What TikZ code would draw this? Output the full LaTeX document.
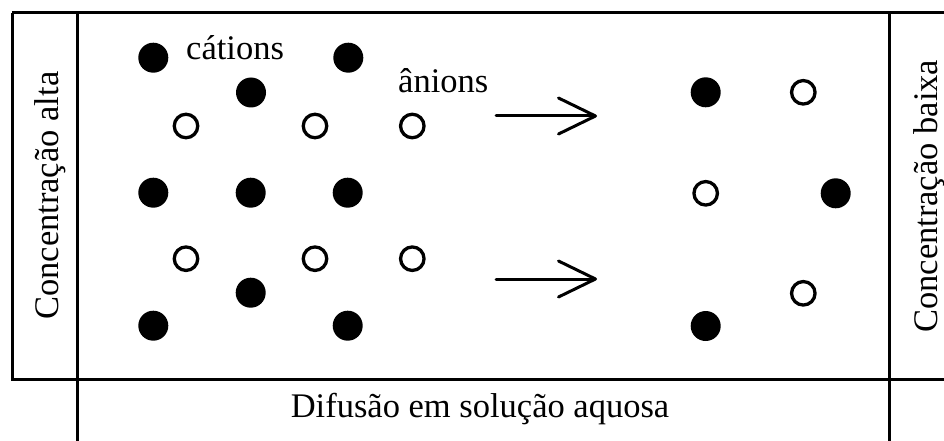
\documentclass[tikz,border=0pt]{standalone}
\usepackage{fontspec}
\setmainfont{Liberation Serif}
\usetikzlibrary{arrows.meta}
\begin{document}
\begin{tikzpicture}[x=1pt,y=-1pt,
  frame/.style={line width=3pt},
  cation/.style={circle,fill=black,minimum size=30pt,inner sep=0pt},
  anion/.style={circle,draw=black,line width=3.3pt,fill=white,minimum size=23.5pt,inner sep=0pt},
  label/.style={inner sep=0pt,font=\fontsize{34.5}{40}\selectfont},
  flow/.style={line width=3pt,line cap=round,-{Straight Barb[length=37pt,width=36pt,line cap=round,line join=round]}}
]
\useasboundingbox (0,0) rectangle (944,441);
% frame
\draw[frame] (12,13) -- (944,13);
\draw[frame] (12,13) -- (12,379) -- (944,379);
\draw[frame] (77,13) -- (77,441);
\draw[frame] (889,13) -- (889,441);
% labels
\node[label,rotate=90,anchor=base west] (alta) at (58.5,320) {Concentração alta};
\node[label,rotate=90,anchor=base west] (baixa) at (937,333) {Concentração baixa};
\node[label,anchor=base] (difusao) at (480,417) {Difusão em solução aquosa};
\node[label,anchor=base west] (cat) at (186,59.3) {cátions};
\node[label,anchor=base west] (an) at (398,92.7) {ânions};
% cations (filled)
\node[cation] (c1) at (153.3,57.7) {};
\node[cation] (c2) at (348.3,57.7) {};
\node[cation] (c3) at (251,92.5) {};
\node[cation] (c4) at (153.3,192.7) {};
\node[cation] (c5) at (250.7,192.7) {};
\node[cation] (c6) at (347.7,192.7) {};
\node[cation] (c7) at (250.7,292.7) {};
\node[cation] (c8) at (153.3,325.7) {};
\node[cation] (c9) at (347.7,325.7) {};
\node[cation] (c10) at (705.7,92.3) {};
\node[cation] (c11) at (835.7,193.3) {};
\node[cation] (c12) at (705.7,326) {};
% anions (open)
\node[anion] (a1) at (186,126) {};
\node[anion] (a2) at (315,126) {};
\node[anion] (a3) at (412.3,126) {};
\node[anion] (a4) at (186,258.7) {};
\node[anion] (a5) at (315,258.7) {};
\node[anion] (a6) at (412.3,258.7) {};
\node[anion] (a7) at (803.3,92.3) {};
\node[anion] (a8) at (705.7,193.3) {};
\node[anion] (a9) at (803.3,293.3) {};
% arrows
\coordinate (u1) at (496,116);
\coordinate (u2) at (597,116);
\coordinate (l1) at (496,279);
\coordinate (l2) at (597,279);
\draw[flow] (u1) -- (u2);
\draw[flow] (l1) -- (l2);
\end{tikzpicture}
\end{document}
